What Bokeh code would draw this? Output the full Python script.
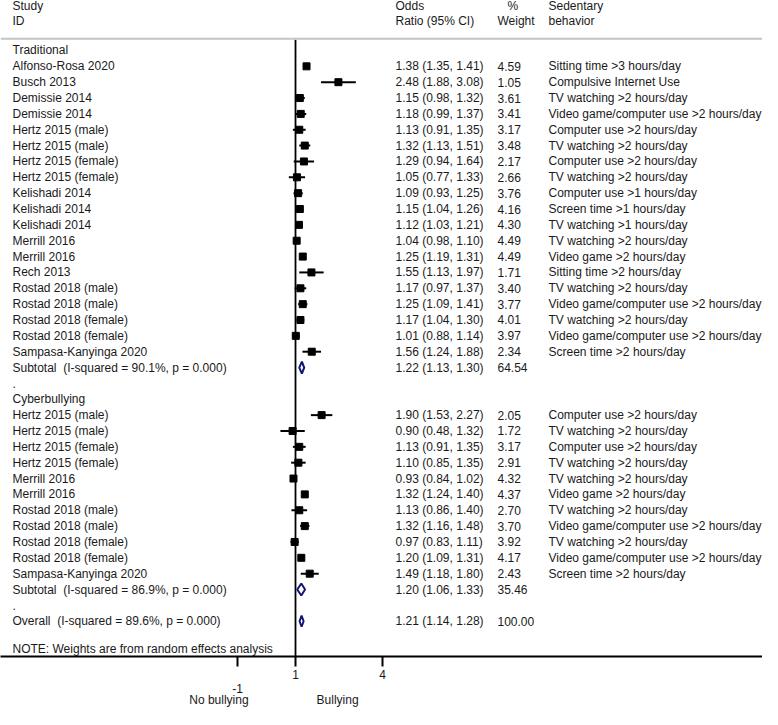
from bokeh.plotting import figure
from bokeh.models import Range1d, FixedTicker, Span, ColumnDataSource, LinearAxis
from bokeh.embed import file_html
from bokeh.resources import INLINE
from bokeh.core.properties import value

# ---------------- data ----------------
trad_study = ["Alfonso-Rosa 2020", "Busch 2013", "Demissie 2014", "Demissie 2014",
              "Hertz 2015 (male)", "Hertz 2015 (male)", "Hertz 2015 (female)", "Hertz 2015 (female)",
              "Kelishadi 2014", "Kelishadi 2014", "Kelishadi 2014", "Merrill 2016", "Merrill 2016",
              "Rech 2013", "Rostad 2018 (male)", "Rostad 2018 (male)", "Rostad 2018 (female)",
              "Rostad 2018 (female)", "Sampasa-Kanyinga 2020"]
trad_or = [1.38, 2.48, 1.15, 1.18, 1.13, 1.32, 1.29, 1.05, 1.09, 1.15, 1.12, 1.04, 1.25, 1.55, 1.17, 1.25, 1.17, 1.01, 1.56]
trad_lo = [1.35, 1.88, 0.98, 0.99, 0.91, 1.13, 0.94, 0.77, 0.93, 1.04, 1.03, 0.98, 1.19, 1.13, 0.97, 1.09, 1.04, 0.88, 1.24]
trad_hi = [1.41, 3.08, 1.32, 1.37, 1.35, 1.51, 1.64, 1.33, 1.25, 1.26, 1.21, 1.10, 1.31, 1.97, 1.37, 1.41, 1.30, 1.14, 1.88]
trad_weight = [4.59, 1.05, 3.61, 3.41, 3.17, 3.48, 2.17, 2.66, 3.76, 4.16, 4.30, 4.49, 4.49, 1.71, 3.40, 3.77, 4.01, 3.97, 2.34]
trad_behavior = ["Sitting time >3 hours/day", "Compulsive Internet Use", "TV watching >2 hours/day",
                 "Video game/computer use >2 hours/day", "Computer use >2 hours/day", "TV watching >2 hours/day",
                 "Computer use >2 hours/day", "TV watching >2 hours/day", "Computer use >1 hours/day",
                 "Screen time >1 hours/day", "TV watching >1 hours/day", "TV watching >2 hours/day",
                 "Video game >2 hours/day", "Sitting time >2 hours/day", "TV watching >2 hours/day",
                 "Video game/computer use >2 hours/day", "TV watching >2 hours/day",
                 "Video game/computer use >2 hours/day", "Screen time >2 hours/day"]
trad_subtotal = [1.22, 1.13, 1.30, 64.54]
trad_subtotal_label = "Subtotal\u00a0 (I-squared = 90.1%, p = 0.000)"

cyber_study = ["Hertz 2015 (male)", "Hertz 2015 (male)", "Hertz 2015 (female)", "Hertz 2015 (female)",
               "Merrill 2016", "Merrill 2016", "Rostad 2018 (male)", "Rostad 2018 (male)",
               "Rostad 2018 (female)", "Rostad 2018 (female)", "Sampasa-Kanyinga 2020"]
cyber_or = [1.90, 0.90, 1.13, 1.10, 0.93, 1.32, 1.13, 1.32, 0.97, 1.20, 1.49]
cyber_lo = [1.53, 0.48, 0.91, 0.85, 0.84, 1.24, 0.86, 1.16, 0.83, 1.09, 1.18]
cyber_hi = [2.27, 1.32, 1.35, 1.35, 1.02, 1.40, 1.40, 1.48, 1.11, 1.31, 1.80]
cyber_weight = [2.05, 1.72, 3.17, 2.91, 4.32, 4.37, 2.70, 3.70, 3.92, 4.17, 2.43]
cyber_behavior = ["Computer use >2 hours/day", "TV watching >2 hours/day", "Computer use >2 hours/day",
                  "TV watching >2 hours/day", "TV watching >2 hours/day", "Video game >2 hours/day",
                  "TV watching >2 hours/day", "Video game/computer use >2 hours/day", "TV watching >2 hours/day",
                  "Video game/computer use >2 hours/day", "Screen time >2 hours/day"]
cyber_subtotal = [1.20, 1.06, 1.33, 35.46]
cyber_subtotal_label = "Subtotal\u00a0 (I-squared = 86.9%, p = 0.000)"

overall = [1.21, 1.14, 1.28, 100.00]
overall_label = "Overall\u00a0 (I-squared = 89.6%, p = 0.000)"

tick_values = [-1, 1, 4]
headers = [("Study", "ID"), ("Odds", "Ratio (95% CI)"), ("%", "Weight"), ("Sedentary", "behavior")]
note_text = "NOTE: Weights are from random effects analysis"
favours = ["No bullying", "Bullying"]

# ---------------- layout ----------------
W, H = 762, 709
AXIS_Y = 655            # expected frame height (axis line), canvas px
PX_PER_UNIT = 29.0
X0 = 1 - 295 / PX_PER_UNIT
X1 = X0 + W / PX_PER_UNIT


def X(px):
    return X0 + px / PX_PER_UNIT


ROW0, ROWH = 49.9, 15.83


def Y(i):
    return ROW0 + ROWH * i


FONT = "Liberation Sans"
TXT = "#1a1a1a"
COL_STUDY, COL_OR, COL_W, COL_PCT, COL_BEH = 12, 395, 497, 507, 548

p = figure(width=W, height=H, output_backend="svg", toolbar_location=None,
           x_range=Range1d(X0, X1), y_range=Range1d(AXIS_Y, 0),
           y_axis_location=None, min_border_left=0, min_border_right=0,
           min_border_top=0, min_border_bottom=0)
p.outline_line_color = None
p.xgrid.visible = False
p.ygrid.visible = False

# ---- assemble rows
txt_x, txt_y, txt = [], [], []


def add_text(px, y, s):
    txt_x.append(X(px))
    txt_y.append(y)
    txt.append(s)


def fmt_ci(e, l, h):
    return f"{e:.2f} ({l:.2f}, {h:.2f})"


study_y, study_or, study_lo, study_hi = [], [], [], []
diamonds = []

row = 0
for head, names, ors, los, his, ws, behs, sub, sublab in [
        ("Traditional", trad_study, trad_or, trad_lo, trad_hi, trad_weight, trad_behavior, trad_subtotal, trad_subtotal_label),
        ("Cyberbullying", cyber_study, cyber_or, cyber_lo, cyber_hi, cyber_weight, cyber_behavior, cyber_subtotal, cyber_subtotal_label)]:
    add_text(COL_STUDY, Y(row), head)
    row += 1
    for n, e, l, h, w, b in zip(names, ors, los, his, ws, behs):
        y = Y(row)
        add_text(COL_STUDY, y, n)
        add_text(COL_OR, y, fmt_ci(e, l, h))
        add_text(COL_W, y, f"{w:.2f}")
        add_text(COL_BEH, y, b)
        study_y.append(y); study_or.append(e); study_lo.append(l); study_hi.append(h)
        row += 1
    y = Y(row)
    add_text(COL_STUDY, y, sublab)
    add_text(COL_OR, y, fmt_ci(*sub[:3]))
    add_text(COL_W, y, f"{sub[3]:.2f}")
    diamonds.append((sub, y, 6.0))
    row += 1
    add_text(COL_STUDY, Y(row), ".")
    row += 1

y = Y(row)
add_text(COL_STUDY, y, overall_label)
add_text(COL_OR, y, fmt_ci(*overall[:3]))
add_text(COL_W, y, f"{overall[3]:.2f}")
diamonds.append((overall, y, 5.5))

# headers
HY1, HY2 = 5.9, 20.5
add_text(COL_STUDY, HY1, headers[0][0]); add_text(COL_STUDY, HY2, headers[0][1])
add_text(COL_OR, HY1, headers[1][0]); add_text(COL_OR, HY2, headers[1][1])
add_text(COL_PCT, HY1, headers[2][0]); add_text(COL_W, HY2, headers[2][1])
add_text(COL_BEH, HY1, headers[3][0]); add_text(COL_BEH, HY2, headers[3][1])
add_text(COL_STUDY, 648.0, note_text)

GREY_Y = 38.1
p.add_layout(Span(location=GREY_Y, dimension="width", line_color="#c4c4c4", line_width=2))

# null line
p.segment(x0=[1], y0=[GREY_Y + 1], x1=[1], y1=[AXIS_Y], line_color="black", line_width=1.8)

src = ColumnDataSource(dict(y=study_y, e=study_or, lo=study_lo, hi=study_hi))
p.segment(x0="lo", y0="y", x1="hi", y1="y", source=src, line_color="black", line_width=2)
p.scatter(x="e", y="y", source=src, marker="square", size=7, color="black")

dxs, dys = [], []
for (vals, y, hh) in diamonds:
    e, l, h = vals[:3]
    dxs.append([l, e, h, e])
    dys.append([y, y - hh, y, y + hh])
p.patches(xs=dxs, ys=dys, fill_color="white", line_color="#141478", line_width=2)

p.text(x=txt_x, y=txt_y, text=txt, text_font=value(FONT), text_font_size="12px",
       text_baseline="middle", text_align="left", text_color=TXT)


def style_axis(ax, standoff):
    ax.major_label_text_font = FONT
    ax.major_label_text_font_size = "12px"
    ax.major_label_text_color = TXT
    ax.major_label_standoff = standoff
    ax.minor_tick_line_color = None
    ax.minor_tick_in = 0
    ax.minor_tick_out = 0


# main axis: line, ticks and labels "1", "4"
ax = p.xaxis[0]
ax.ticker = FixedTicker(ticks=tick_values)
ax.major_label_overrides = {tick_values[0]: ""}
ax.axis_line_color = "black"
ax.axis_line_width = 2
ax.major_tick_line_color = "black"
ax.major_tick_line_width = 2
ax.major_tick_in = 0
ax.major_tick_out = 10
style_axis(ax, 3)

# second row of labels: "-1" sits lower than the others
ax2 = LinearAxis(ticker=FixedTicker(ticks=[tick_values[0]]), axis_line_color=None,
                 major_tick_line_color=None, major_tick_in=0, major_tick_out=0,
                 major_label_overrides={tick_values[0]: str(tick_values[0])})
style_axis(ax2, 2)
p.add_layout(ax2, "below")

# third row: favours labels
FAV_POS = [-1.64, 2.45]
ax3 = LinearAxis(ticker=FixedTicker(ticks=FAV_POS), axis_line_color=None,
                 major_tick_line_color=None, major_tick_in=0, major_tick_out=0,
                 major_label_overrides={FAV_POS[0]: favours[0], FAV_POS[1]: favours[1]})
style_axis(ax3, -3)
p.add_layout(ax3, "below")

open("out.html", "w").write(file_html(p, INLINE))
